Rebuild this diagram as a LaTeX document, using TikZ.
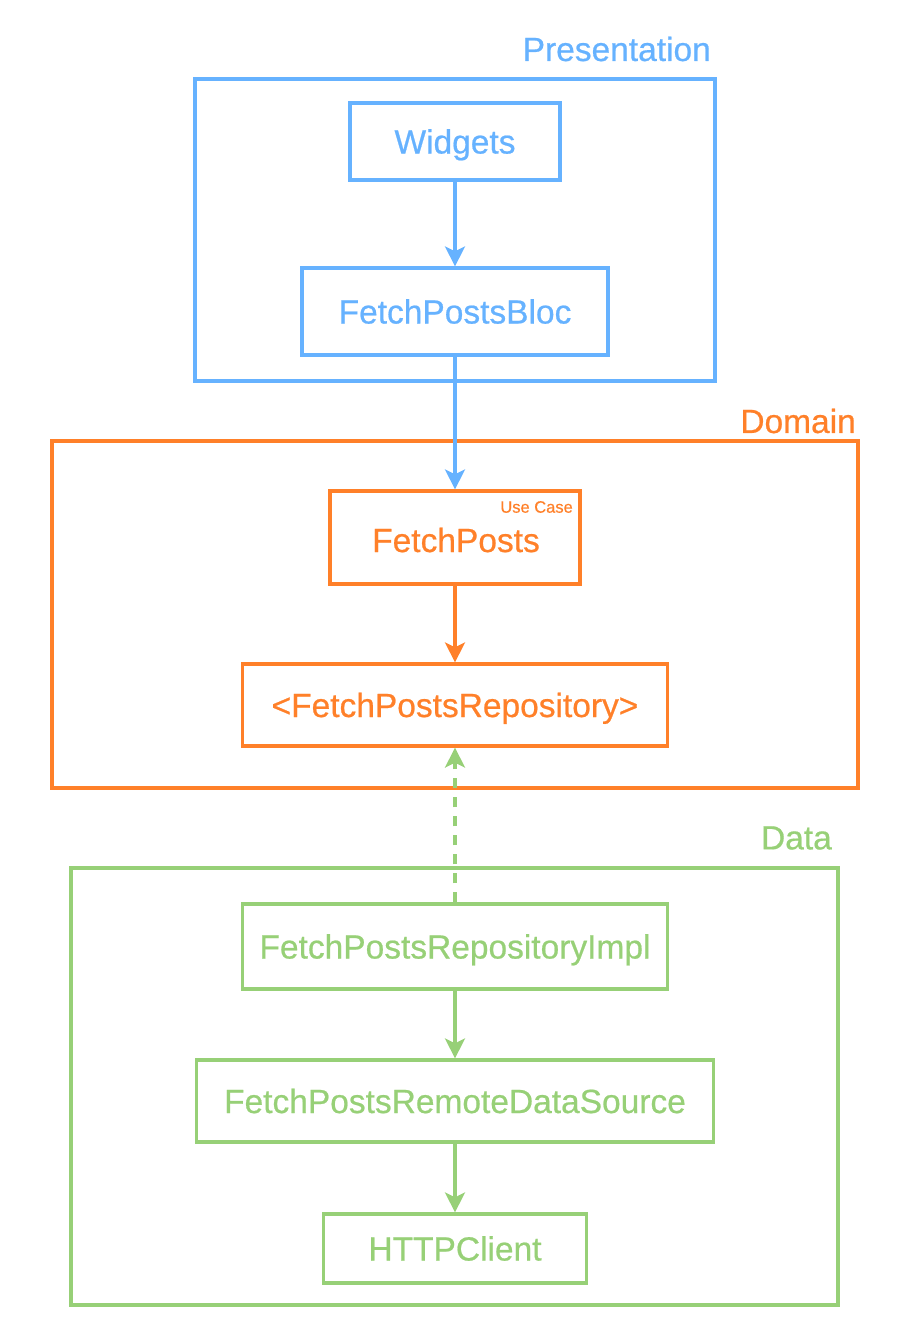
\documentclass[tikz,border=0pt]{standalone}
\usepackage{fontspec}
\setmainfont{Liberation Sans}[FakeBold=0.6]
\usetikzlibrary{arrows.meta}
\definecolor{cblue}{HTML}{66B2FF}
\definecolor{corange}{HTML}{FF8029}
\definecolor{cgreen}{HTML}{97D077}
\begin{document}
\begin{tikzpicture}[x=1pt,y=-1pt,
  box/.style={draw,line width=3.2pt,rectangle,inner sep=0pt,text height=24pt,text depth=0pt,font=\fontsize{33.5}{40}\selectfont},
  layer/.style={draw,line width=3.2pt,rectangle,inner sep=0pt},
  lbl/.style={anchor=east,inner sep=0pt,font=\fontsize{33.5}{40}\selectfont},
  conn/.style={line width=3.2pt,-{Stealth[length=20pt,width=20pt,inset=5pt]}}]
\useasboundingbox (0,0) rectangle (916,1344);
% Presentation
\begin{scope}[cblue]
\node[layer,minimum width=520pt,minimum height=302pt] (pres) at (455,230) {};
\node[lbl,text=cblue] (presl) at (711,49) {Presentation};
\node[box,text=cblue,minimum width=210pt,minimum height=77pt] (widgets) at (455,141.5) {Widgets};
\node[box,text=cblue,minimum width=306pt,minimum height=87pt] (bloc) at (455,311.5) {FetchPostsBloc};
\end{scope}
% Domain
\begin{scope}[corange]
\node[layer,minimum width=806pt,minimum height=347pt] (dom) at (455,614.5) {};
\node[lbl,text=corange] (doml) at (856,421) {Domain};
\node[box,text=corange,minimum width=250pt,minimum height=93pt] (fp) at (455,537.5) {};
\node[text=corange,font=\fontsize{33.5}{40}\selectfont,inner sep=0pt,text height=24pt,text depth=0pt] (fpt) at (456,540) {FetchPosts};
\node[text=corange,font=\fontsize{16.5}{20}\selectfont,inner sep=0pt,anchor=east] (uc) at (573,507) {Use Case};
\node[box,text=corange,minimum width=425pt,minimum height=82pt] (repo) at (455,705) {<FetchPostsRepository>};
\end{scope}
% Data
\begin{scope}[cgreen]
\node[layer,minimum width=767pt,minimum height=437pt] (data) at (454.5,1086.5) {};
\node[lbl,text=cgreen] (datal) at (832,838) {Data};
\node[box,text=cgreen,minimum width=425pt,minimum height=85pt] (impl) at (455,946.5) {FetchPostsRepositoryImpl};
\node[box,text=cgreen,minimum width=517pt,minimum height=82pt] (remote) at (455,1101) {FetchPostsRemoteDataSource};
\node[box,text=cgreen,minimum width=263pt,minimum height=69pt] (http) at (455,1248.5) {HTTPClient};
\end{scope}
% connectors
\draw[conn,cblue] (widgets.south) -- (bloc.north);
\draw[conn,cblue] (bloc.south) -- (fp.north);
\draw[conn,corange] (fp.south) -- (repo.north);
\draw[conn,cgreen,dash pattern=on 10pt off 9pt] (impl.north) -- (repo.south);
\draw[conn,cgreen] (impl.south) -- (remote.north);
\draw[conn,cgreen] (remote.south) -- (http.north);
\end{tikzpicture}
\end{document}
